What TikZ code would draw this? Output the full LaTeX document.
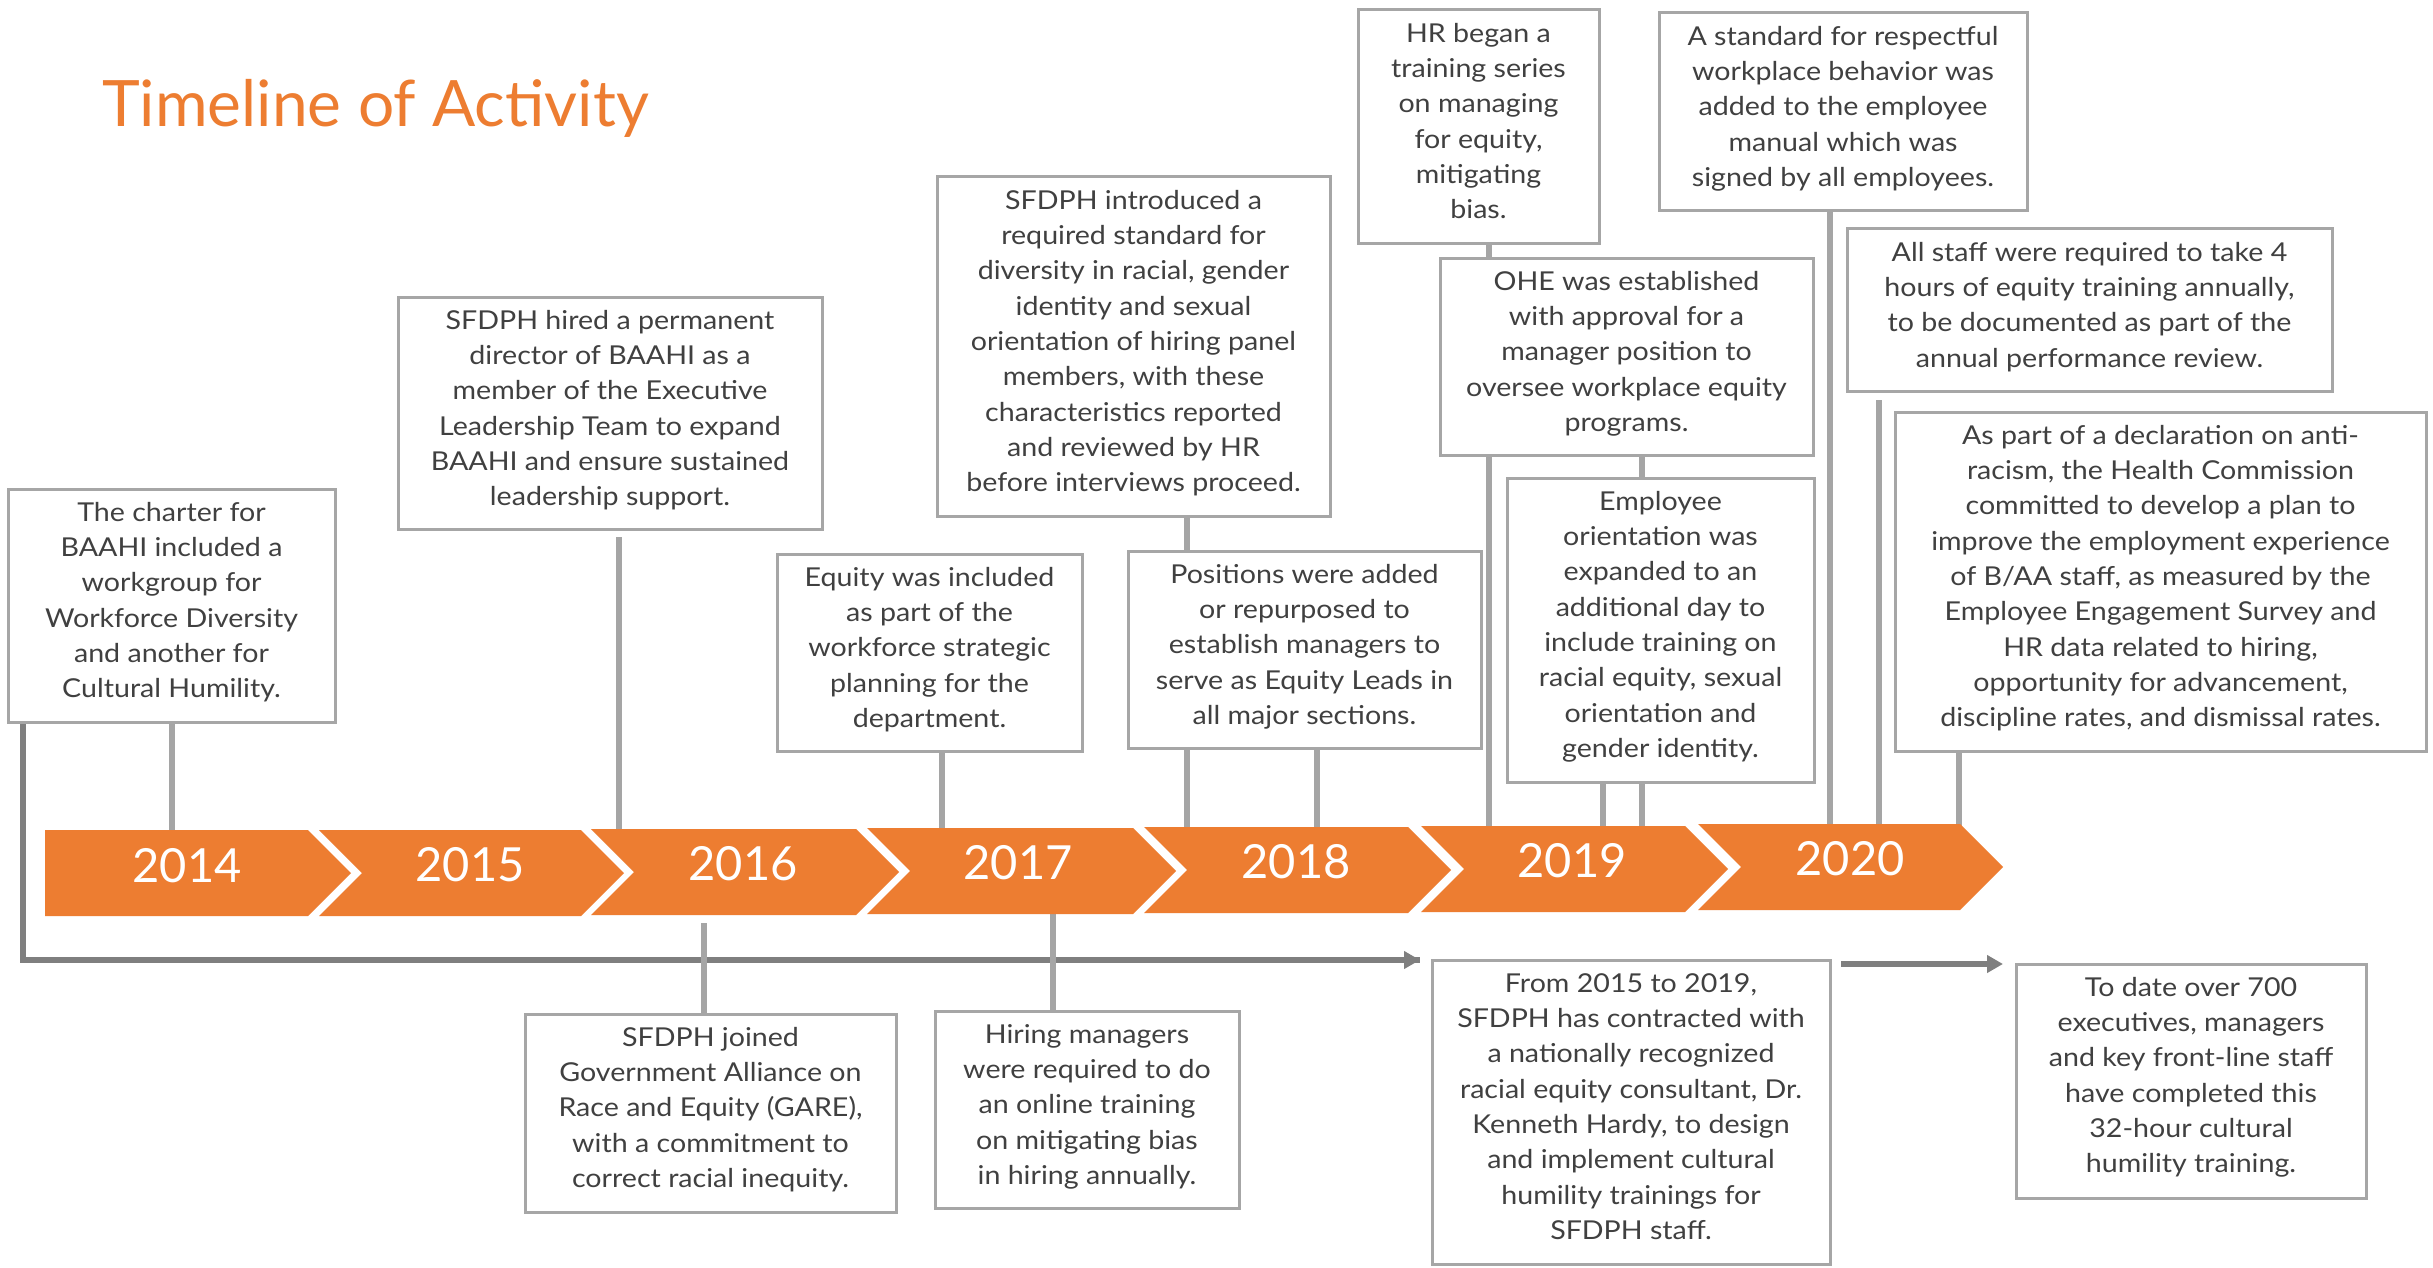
\documentclass[tikz,border=0pt]{standalone}
\usepackage{fontspec}
\setmainfont{Lato}
\newfontfamily\bodyfont{Lato}[FakeStretch=1.1]
\usetikzlibrary{arrows.meta}
\definecolor{orng}{HTML}{ED7D31}
\definecolor{bord}{HTML}{A6A6A6}
\definecolor{conn}{HTML}{A5A5A5}
\definecolor{fbk}{HTML}{7F7F7F}
\definecolor{txt}{HTML}{404040}
\pgfdeclarelayer{back}
\pgfdeclarelayer{bg}
\pgfsetlayers{back,bg,main}
\newcommand{\evbox}[6]{%
  \node[evbox, minimum width={(#4-#2)*1pt}, minimum height={(#5-#3)*1pt}] (#1) at (#2,#3) {};
  \node[evtext] (#1t) at ([yshift=-7.3pt]#1.north) {\strut #6};
}
\newcommand{\chevn}[3]{%
  \fill[orng] (#1,#3) -- (#2,#3) -- (#2+43,#3+43) -- (#2,#3+86) -- (#1,#3+86) -- (#1+43,#3+43) -- cycle;
}
\begin{document}
\begin{tikzpicture}[x=1pt,y=-1pt,
  evbox/.style={draw=bord, line width=3pt, fill=white, inner sep=0pt, outer sep=0pt, anchor=north west},
  evtext/.style={text=txt, align=center, inner sep=0pt, anchor=north, font=\bodyfont\fontsize{26}{35.3}\selectfont},
  conline/.style={draw=conn, line width=5.5pt},
  fbline/.style={draw=fbk, line width=6pt, -{Triangle[length=16pt,width=17pt]}},
  yr/.style={text=white, anchor=base, inner sep=0pt, font=\fontsize{47}{50}\selectfont},
]
\begin{pgfonlayer}{back}
\fill[white] (0,0) rectangle (2433,1268);
\end{pgfonlayer}
\useasboundingbox (0,0) rectangle (2433,1268);

\node[anchor=base west, text=orng, inner sep=0pt, font=\fontsize{64}{70}\selectfont] (title) at (102,127) {Timeline of Activity};

% chevrons
\fill[orng] (45,830) -- (308,830) -- (351,873) -- (308,916) -- (45,916) -- cycle;
\chevn{319}{581}{830}
\chevn{591}{856}{829}
\chevn{867}{1133}{828}
\chevn{1144}{1408}{827}
\chevn{1421}{1685}{826}
\chevn{1698}{1960}{824}
\node[yr] (y2014) at (187,882) {2014};
\node[yr] (y2015) at (470,881) {2015};
\node[yr] (y2016) at (743,880) {2016};
\node[yr] (y2017) at (1018,879) {2017};
\node[yr] (y2018) at (1296,878) {2018};
\node[yr] (y2019) at (1572,877) {2019};
\node[yr] (y2020) at (1850,875) {2020};

% boxes
\evbox{b1}{8}{489}{335}{722}{The charter for\\BAAHI included a\\workgroup for\\Workforce Diversity\\and another for\\Cultural Humility.}
\evbox{b2}{398}{297}{822}{529}{SFDPH hired a permanent\\director of BAAHI as a\\member of the Executive\\Leadership Team to expand\\BAAHI and ensure sustained\\leadership support.}
\evbox{b3}{937}{177}{1330}{516}{SFDPH introduced a\\required standard for\\diversity in racial, gender\\identity and sexual\\orientation of hiring panel\\members, with these\\characteristics reported\\and reviewed by HR\\before interviews proceed.}
\evbox{b4}{777}{554}{1082}{751}{Equity was included\\as part of the\\workforce strategic\\planning for the\\department.}
\evbox{b5}{1128}{551}{1481}{748}{Positions were added\\or repurposed to\\establish managers to\\serve as Equity Leads in\\all major sections.}
\evbox{b6}{1358}{10}{1599}{243}{HR began a\\training series\\on managing\\for equity,\\mitigating\\bias.}
\evbox{b7}{1440}{258}{1813}{455}{OHE was established\\with approval for a\\manager position to\\oversee workplace equity\\programs.}
\evbox{b8}{1507}{478}{1814}{782}{Employee\\orientation was\\expanded to an\\additional day to\\include training on\\racial equity, sexual\\orientation and\\gender identity.}
\evbox{b9}{1659}{13}{2027}{211}{A standard for respectful\\workplace behavior was\\added to the employee\\manual which was\\signed by all employees.}
\evbox{b10}{1847}{229}{2332}{391}{All staff were required to take 4\\hours of equity training annually,\\to be documented as part of the\\annual performance review.}
\evbox{b11}{1895}{412}{2426}{751}{As part of a declaration on anti-\\racism, the Health Commission\\committed to develop a plan to\\improve the employment experience\\of B/AA staff, as measured by the\\Employee Engagement Survey and\\HR data related to hiring,\\opportunity for advancement,\\discipline rates, and dismissal rates.}
\evbox{b12}{525}{1014}{896}{1212}{SFDPH joined\\Government Alliance on\\Race and Equity (GARE),\\with a commitment to\\correct racial inequity.}
\evbox{b13}{935}{1011}{1239}{1208}{Hiring managers\\were required to do\\an online training\\on mitigating bias\\in hiring annually.}
\evbox{b14}{1432}{960}{1830}{1264}{From 2015 to 2019,\\SFDPH has contracted with\\a nationally recognized\\racial equity consultant, Dr.\\Kenneth Hardy, to design\\and implement cultural\\humility trainings for\\SFDPH staff.}
\evbox{b15}{2016}{964}{2366}{1198}{To date over 700\\executives, managers\\and key front-line staff\\have completed this\\32-hour cultural\\humility training.}

% connector end points on the chevrons
\coordinate (k1) at (172,833);
\coordinate (k2) at (619,832);
\coordinate (k3) at (1187,830);
\coordinate (k4) at (942,831);
\coordinate (k5) at (1317,830);
\coordinate (k6) at (1489,829);
\coordinate (k7) at (1642,829);
\coordinate (k8) at (1603,829);
\coordinate (k9) at (1830,827);
\coordinate (k10) at (1879,827);
\coordinate (k11) at (1959,826);
\coordinate (k12) at (704,912);
\coordinate (k13) at (1053,911);

\begin{pgfonlayer}{bg}
\draw[conline] (k1 |- b1.south) -- (k1);
\draw[conline, shorten <=8pt] (k2 |- b2.south) -- (k2);
\draw[conline] (k3 |- b3.south) -- (k3);
\draw[conline] (k4 |- b4.south) -- (k4);
\draw[conline] (k5 |- b5.south) -- (k5);
\draw[conline] (k6 |- b6.south) -- (k6);
\draw[conline] (k7 |- b7.south) -- (k7);
\draw[conline] (k8 |- b8.south) -- (k8);
\draw[conline] (k9 |- b9.south) -- (k9);
\draw[conline, shorten <=9pt] (k10 |- b10.south) -- (k10);
\draw[conline] (k11 |- b11.south) -- (k11);
\draw[fbline, -] ([xshift=15pt]b1.south west) |- ([xshift=-12pt]b14.north west);
\draw[conline, shorten <=11pt] (k12) -- (k12 |- b12.north);
\draw[conline] (k13) -- (k13 |- b13.north);
\end{pgfonlayer}
\draw[fbline] ([xshift=-30pt]b14.north west) -- ([xshift=-12pt]b14.north west);
\draw[fbline] ([xshift=11pt]b14.east |- b15.north west) -- ([xshift=-13pt]b15.north west);
\end{tikzpicture}
\end{document}
